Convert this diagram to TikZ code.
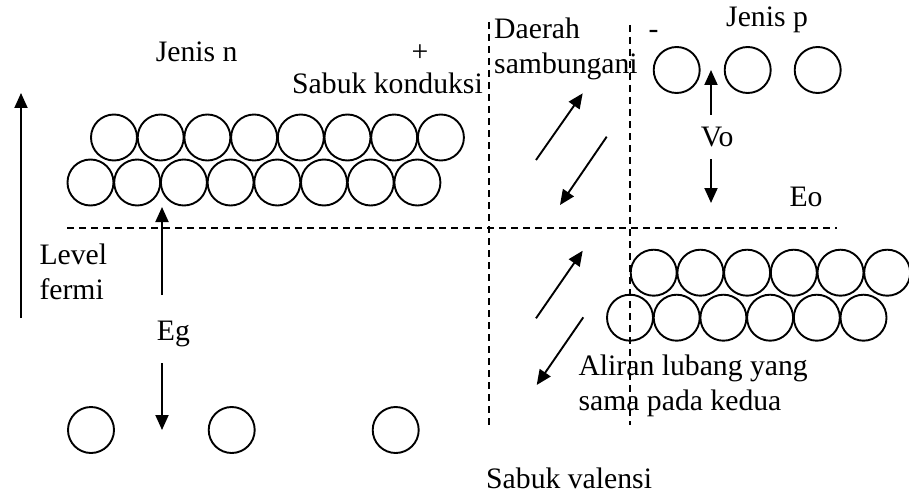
\documentclass[tikz,border=0pt]{standalone}
\usepackage{fontspec}
\setmainfont{Liberation Serif}
\usetikzlibrary{arrows.meta}
\begin{document}
\begin{tikzpicture}[x=1pt,y=-1pt,
  particle/.style={circle,draw,line width=1.9pt,minimum size=46pt,inner sep=0pt},
  bandline/.style={line width=1.9pt,dash pattern=on 7pt off 5pt},
  arr/.style={line width=1.9pt,-{Triangle[length=15pt,width=13pt]}},
  lbl/.style={anchor=base west,inner sep=0pt,font=\fontsize{29.7}{34}\selectfont}]
\useasboundingbox (0,0) rectangle (909,500);

% conduction band electrons (n side)
\foreach \i in {0,...,7} \node[particle] (nt\i) at (114+46.7*\i,137.5) {};
\foreach \i in {0,...,7} \node[particle] (nb\i) at (90.5+46.7*\i,182.5) {};
% holes in valence band (p side)
\foreach \i in {0,...,5} \node[particle] (pt\i) at (653.7+46.7*\i,272.7) {};
\foreach \i in {0,...,5} \node[particle] (pb\i) at (630+46.7*\i,317.7) {};
% isolated carriers
\node[particle] (nv1) at (91,430) {};
\node[particle] (nv2) at (231.7,430) {};
\node[particle] (nv3) at (395.7,430) {};
\node[particle] (pc1) at (676.7,70) {};
\node[particle] (pc2) at (747.7,70) {};
\node[particle] (pc3) at (817.7,70) {};

% Fermi level and junction boundaries
\coordinate (fl1) at (67,228);
\coordinate (fl2) at (837,228);
\draw[bandline] (fl1) -- (fl2);
\coordinate (jl1) at (489.3,22);
\coordinate (jl2) at (489.3,425);
\coordinate (jr1) at (630,25);
\coordinate (jr2) at (630,425);
\draw[bandline] (jl1) -- (jl2);
\draw[bandline] (jr1) -- (jr2);

% labels
\node[lbl] (jn) at (155.7,61.7) {Jenis n};
\node[lbl] (plus) at (411.5,61.7) {+};
\node[lbl] (sk) at (292,93.3) {Sabuk konduksi};
\node[lbl] (dae) at (494,38.3) {Daerah};
\node[lbl] (samb) at (494,73.3) {sambungani};
\node[lbl] (minus) at (648.5,38.3) {-};
\node[lbl] (jp) at (726,26.7) {Jenis p};
\node[lbl] (vo) at (700.7,146) {Vo};
\node[lbl] (eo) at (789.3,206.7) {Eo};
\node[lbl] (lev) at (39.3,264.3) {Level};
\node[lbl] (fer) at (39.3,299) {fermi};
\node[lbl] (eg) at (156.7,340) {Eg};
\node[lbl] (al1) at (578.3,375) {Aliran lubang yang};
\node[lbl] (al2) at (578.3,410) {sama pada kedua};
\node[lbl] (sv) at (486,488.3) {Sabuk valensi};

% energy axis
\coordinate (ax1) at (21,318);
\coordinate (ax2) at (21,93);
\draw[arr] (ax1) -- (ax2);
% band gap
\coordinate (eg1) at (162,295);
\coordinate (eg2) at (162,207);
\coordinate (eg3) at (162,363);
\coordinate (eg4) at (162,430);
\draw[arr] (eg1) -- (eg2);
\draw[arr] (eg3) -- (eg4);
% barrier potential
\coordinate (vo1) at (711,115);
\coordinate (vo2) at (711,70);
\coordinate (vo3) at (711,159);
\coordinate (vo4) at (711,203);
\draw[arr] (vo1) -- (vo2);
\draw[arr] (vo3) -- (vo4);
% carrier flow across the junction
\coordinate (f1a) at (536,160);
\coordinate (f1b) at (582.7,93.3);
\coordinate (f2a) at (606.7,136.7);
\coordinate (f2b) at (560,205);
\coordinate (f3a) at (536,318.3);
\coordinate (f3b) at (582.7,250.7);
\coordinate (f4a) at (583.3,317.3);
\coordinate (f4b) at (536.7,385);
\draw[arr] (f1a) -- (f1b);
\draw[arr] (f2a) -- (f2b);
\draw[arr] (f3a) -- (f3b);
\draw[arr] (f4a) -- (f4b);
\end{tikzpicture}
\end{document}
